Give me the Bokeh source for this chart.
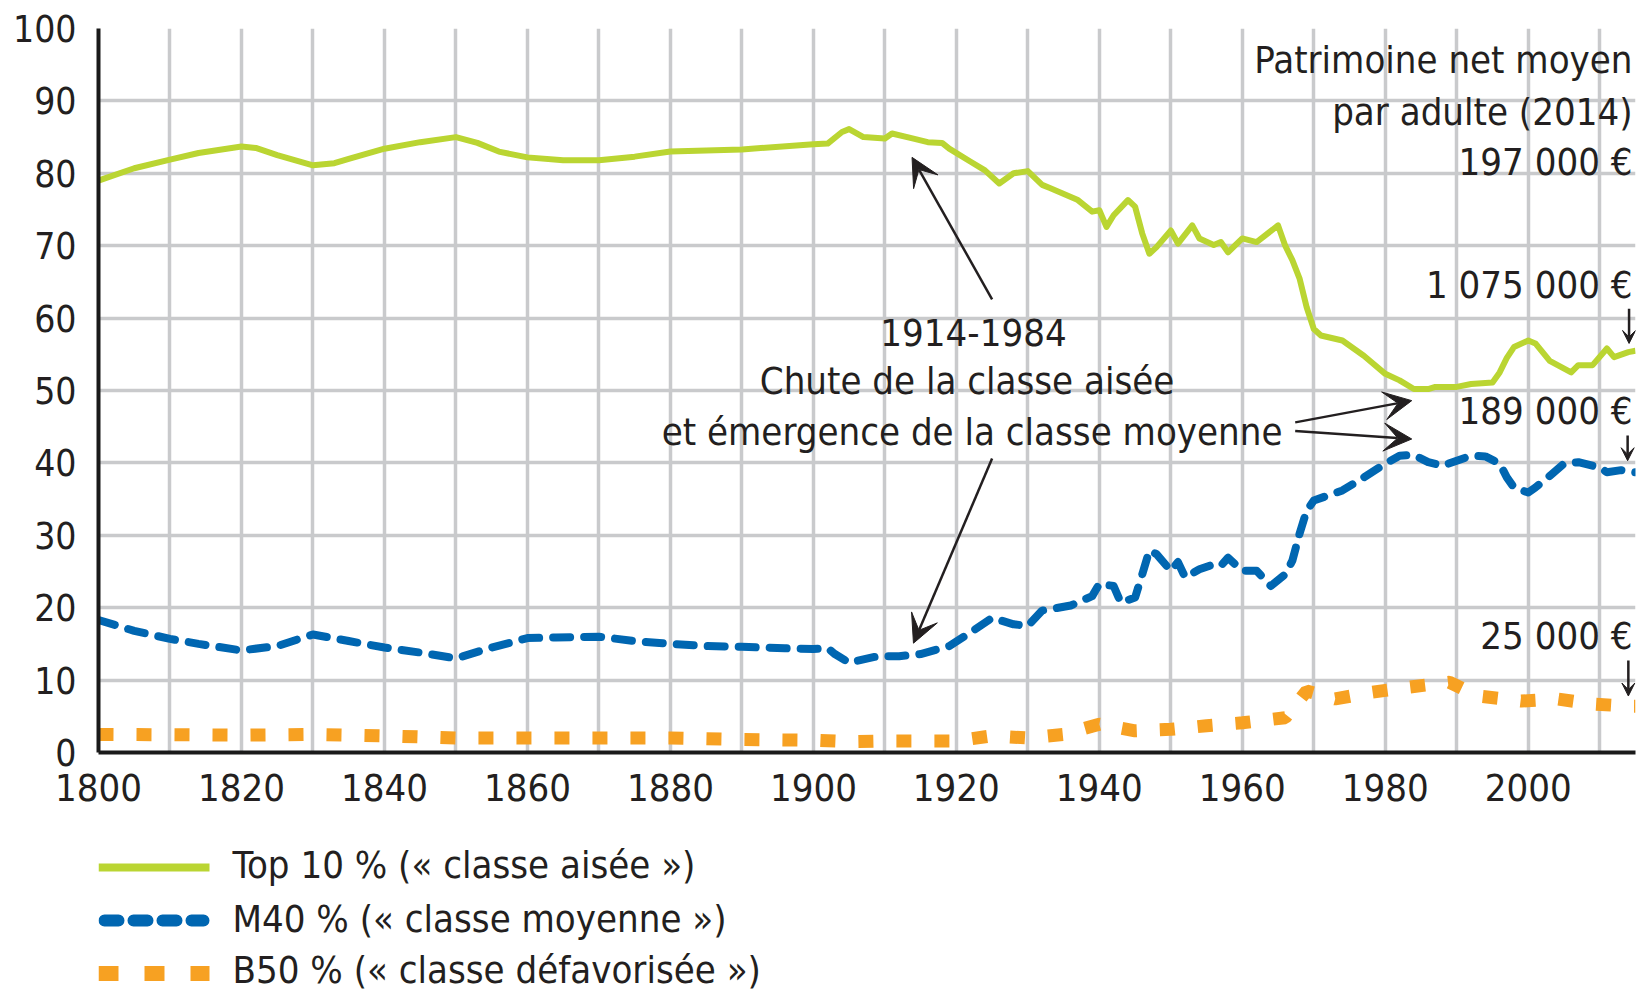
from bokeh.plotting import figure
from bokeh.layouts import column
from bokeh.models import Range1d, FixedTicker, Label, Arrow, VeeHead
from bokeh.core.properties import value
from bokeh.embed import file_html
from bokeh.resources import INLINE

FONT = "DejaVu Sans Condensed"
TEXT = "#231f20"
GREEN = "#bad532"
BLUE = "#0066b1"
ORANGE = "#f7a122"

# ---- data (share of total wealth, %) ----
top10_years = [1800, 1805, 1810, 1814, 1820, 1822, 1825, 1830, 1833, 1835, 1840, 1845,
               1850, 1853, 1856, 1860, 1865, 1870, 1875, 1880, 1890, 1900, 1902,
               1904, 1905, 1907, 1910, 1911, 1914, 1916, 1918, 1919, 1922, 1924,
               1926, 1928, 1930, 1932, 1933, 1937, 1939, 1940, 1941, 1942, 1944,
               1945, 1946, 1947, 1948, 1950, 1951, 1953, 1954, 1956, 1957, 1958,
               1960, 1962, 1965, 1966, 1967, 1968, 1969, 1970, 1971, 1974, 1977,
               1980, 1982, 1984, 1986, 1987, 1990, 1992, 1995, 1996, 1997, 1998,
               2000, 2001, 2003, 2006, 2007, 2009, 2011, 2012, 2014, 2015]
top10_values = [79.0, 80.7, 81.9, 82.8, 83.7, 83.5, 82.5, 81.1, 81.4, 82.0, 83.4, 84.3,
                85.0, 84.2, 83.0, 82.2, 81.8, 81.8, 82.3, 83.0, 83.3, 84.0, 84.1,
                85.7, 86.1, 85.0, 84.8, 85.5, 84.8, 84.3, 84.2, 83.4, 81.6, 80.4,
                78.6, 80.0, 80.3, 78.4, 78.0, 76.3, 74.7, 74.9, 72.6, 74.2, 76.3,
                75.4, 71.7, 68.9, 69.8, 72.1, 70.3, 72.8, 71.0, 70.1, 70.5, 69.1,
                71.0, 70.5, 72.8, 70.0, 68.0, 65.5, 61.5, 58.5, 57.6, 56.9, 54.8,
                52.3, 51.4, 50.2, 50.2, 50.5, 50.5, 50.9, 51.1, 52.5, 54.5, 56.0,
                56.9, 56.5, 54.1, 52.5, 53.5, 53.5, 55.8, 54.6, 55.3, 55.5]

m40_years = [1800, 1805, 1810, 1814, 1820, 1825, 1830, 1835, 1840, 1845, 1850, 1855,
             1860, 1864, 1870, 1875, 1880, 1885, 1890, 1896, 1900, 1902, 1903, 1905,
             1909, 1912, 1915, 1919, 1922, 1925, 1928, 1930, 1932, 1936, 1939, 1940,
             1942, 1943, 1945, 1946, 1947, 1948, 1950, 1951, 1952, 1954, 1956, 1957,
             1958, 1960, 1962, 1964, 1966, 1967, 1968, 1969, 1970, 1972, 1974, 1977,
             1980, 1982, 1984, 1986, 1988, 1990, 1992, 1994, 1996, 1997, 1998, 2000,
             2001, 2003, 2005, 2007, 2009, 2010, 2011, 2013, 2015]
m40_values = [18.3, 16.8, 15.7, 15.0, 14.1, 14.7, 16.3, 15.4, 14.5, 13.8, 13.0, 14.5,
              15.8, 15.9, 16.0, 15.4, 15.0, 14.7, 14.6, 14.4, 14.3, 14.4, 13.6, 12.4,
              13.3, 13.3, 13.6, 14.7, 16.6, 18.6, 17.7, 17.5, 19.6, 20.3, 21.6, 23.3,
              23.0, 20.7, 21.4, 24.6, 27.9, 27.4, 25.1, 26.3, 24.2, 25.3, 26.0, 25.8,
              26.9, 25.1, 25.1, 23.0, 24.6, 26.5, 30.2, 33.4, 34.8, 35.5, 36.2, 38.0,
              39.9, 41.0, 41.1, 40.1, 39.6, 40.3, 41.0, 40.9, 39.9, 38.0, 36.6, 35.9,
              36.6, 38.2, 39.9, 40.1, 39.6, 39.4, 38.7, 39.0, 38.7]

b50_years = [1800, 1820, 1830, 1840, 1850, 1860, 1870, 1880, 1890, 1900, 1905, 1910,
             1915, 1920, 1925, 1930, 1935, 1940, 1945, 1950, 1955, 1960, 1966, 1969,
             1973, 1978, 1983, 1989, 1993, 1999, 2004, 2009, 2014, 2015]
b50_values = [2.5, 2.4, 2.5, 2.3, 2.0, 2.0, 2.0, 2.0, 1.8, 1.7, 1.5, 1.6,
              1.6, 1.6, 2.3, 2.0, 2.5, 3.9, 3.0, 3.2, 3.7, 4.1, 4.8, 8.5,
              7.4, 8.3, 9.0, 9.7, 7.8, 7.1, 7.4, 6.7, 6.4, 6.4]

x_label_ticks = [1800, 1820, 1840, 1860, 1880, 1900, 1920, 1940, 1960, 1980, 2000]
y_label_ticks = [0, 10, 20, 30, 40, 50, 60, 70, 80, 90, 100]
x_grid_ticks = [1810, 1820, 1830, 1840, 1850, 1860, 1870, 1880, 1890, 1900, 1910,
                1920, 1930, 1940, 1950, 1960, 1970, 1980, 1990, 2000, 2010]
y_grid_ticks = [10, 20, 30, 40, 50, 60, 70, 80, 90]

legend_labels = ["Top 10 % (« classe aisée »)",
                 "M40 % (« classe moyenne »)",
                 "B50 % (« classe défavorisée »)"]

W = 1638
MAIN_H = 818
LEG_H = 176

# ---------------- main chart ----------------
p = figure(width=W, height=MAIN_H, x_range=Range1d(1800, 2015),
           y_range=Range1d(0, 100), output_backend="svg", toolbar_location=None,
           min_border_left=98, min_border_right=3, min_border_top=28,
           min_border_bottom=66)
p.outline_line_color = None
p.background_fill_color = "white"
p.border_fill_color = "white"

p.xaxis.ticker = FixedTicker(ticks=x_label_ticks)
p.yaxis.ticker = FixedTicker(ticks=y_label_ticks)
p.xgrid.ticker = FixedTicker(ticks=x_grid_ticks)
p.ygrid.ticker = FixedTicker(ticks=y_grid_ticks)
for g in (p.xgrid, p.ygrid):
    g.grid_line_color = "#c9cacc"
    g.grid_line_width = 3.5
for ax in (p.xaxis, p.yaxis):
    ax.axis_line_color = "#1a1a1a"
    ax.axis_line_width = 4
    ax.major_tick_line_color = None
    ax.minor_tick_line_color = None
    ax.major_label_text_font = FONT
    ax.major_label_text_color = TEXT
p.xaxis.major_label_text_font_size = "38px"
p.yaxis.major_label_text_font_size = "37px"
p.yaxis.major_label_standoff = 16
p.xaxis.major_label_standoff = 15

p.line(top10_years, top10_values, line_color=GREEN, line_width=6, line_join="round")
p.line(m40_years, m40_values, line_color=BLUE, line_width=8, line_dash="17 14",
       line_cap="round", line_join="round")
p.line(b50_years, b50_values, line_color=ORANGE, line_width=13, line_dash="15 23",
       line_cap="butt")


def lab(x, y, text, align):
    p.add_layout(Label(x=x, y=y, text=text, text_align=align,
                       text_baseline="alphabetic", text_font=FONT,
                       text_font_size="38px", text_color=TEXT))


lab(2014.58, 95.6, "Patrimoine net moyen", "right")
lab(2014.58, 88.4, "par adulte (2014)", "right")
lab(2014.58, 81.5, "197 000 €", "right")
lab(2014.58, 64.6, "1 075 000 €", "right")
lab(2014.58, 47.2, "189 000 €", "right")
lab(2014.58, 16.1, "25 000 €", "right")
lab(1922.4, 58.0, "1914-1984", "center")
lab(1921.5, 51.3, "Chute de la classe aisée", "center")
lab(1922.2, 44.2, "et émergence de la classe moyenne", "center")


def arrow(x0, y0, x1, y1, size, lw):
    p.add_layout(Arrow(end=VeeHead(size=size, fill_color=TEXT, line_color=TEXT,
                                   line_width=1),
                       x_start=x0, y_start=y0, x_end=x1, y_end=y1,
                       line_color=TEXT, line_width=lw))


arrow(1925.0, 62.6, 1913.8, 82.2, 28, 2.5)
arrow(1925.0, 40.6, 1914.0, 15.1, 28, 2.5)
arrow(1967.4, 45.6, 1983.7, 48.6, 28, 2.5)
arrow(1967.4, 44.4, 1983.7, 43.3, 28, 2.5)
arrow(2014.1, 61.3, 2014.1, 56.5, 13, 2.5)
arrow(2013.9, 43.8, 2013.9, 40.3, 13, 2.5)
arrow(2014.0, 12.7, 2014.0, 7.8, 13, 2.5)

# ---------------- legend panel (coordinates = pixels) ----------------
lg = figure(width=W, height=LEG_H, x_range=Range1d(98, 1635), y_range=Range1d(0, LEG_H),
            output_backend="svg", toolbar_location=None, x_axis_type=None,
            y_axis_type=None, min_border_left=98, min_border_right=3,
            min_border_top=0, min_border_bottom=0)
lg.outline_line_color = None
lg.grid.visible = False
lg.background_fill_color = "white"
lg.border_fill_color = "white"

row_y = [127, 74, 21]
lg.line([98, 209], [row_y[0], row_y[0]], line_color=GREEN, line_width=8)
lg.line([104, 203], [row_y[1], row_y[1]], line_color=BLUE, line_width=12,
        line_dash="14 15", line_cap="round")
lg.line([98, 209], [row_y[2], row_y[2]], line_color=ORANGE, line_width=15,
        line_dash="20 26")
lg.text(x=[232, 232, 232], y=[130, 76, 25], text=legend_labels,
        text_font=value(FONT), text_font_size="38px", text_color=TEXT,
        text_baseline="alphabetic", text_align="left")

open("out.html", "w").write(file_html(column(p, lg), INLINE))
